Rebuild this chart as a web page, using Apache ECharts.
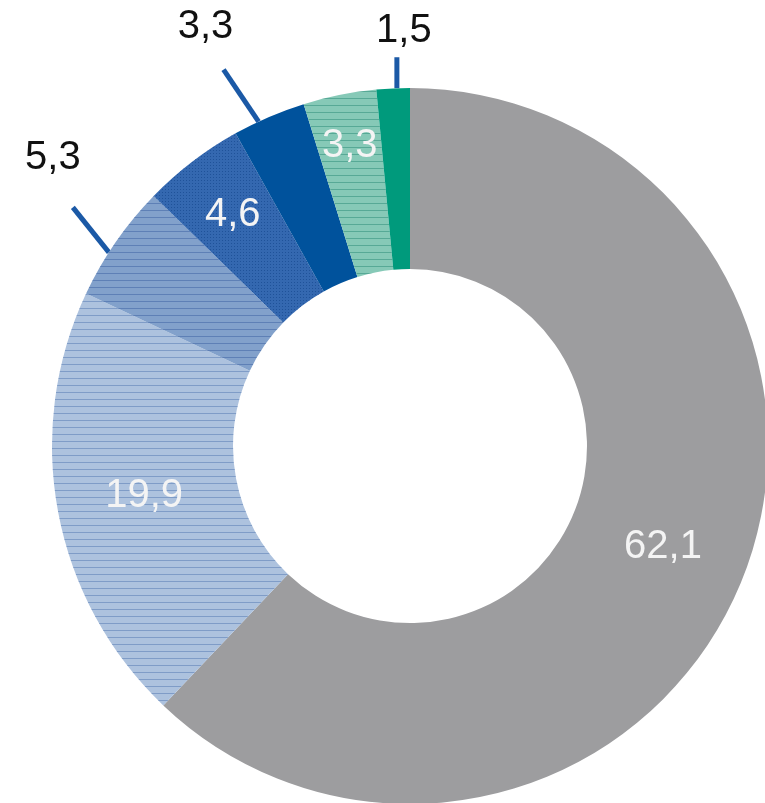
<!DOCTYPE html>
<html>
<head>
<meta charset="utf-8">
<script src="https://cdn.jsdelivr.net/npm/echarts@6/dist/echarts.min.js"></script>
<style>
  html, body { margin: 0; padding: 0; background: #fff; }
  #pieChart { width: 765px; height: 803px; }
</style>
</head>
<body>
<div id="pieChart"></div>
<script>
// Anteile in %, im Uhrzeigersinn ab 12 Uhr
const categories = ["Segment 1", "Segment 2", "Segment 3", "Segment 4", "Segment 5", "Segment 6", "Segment 7"];
const shares = [62.1, 19.9, 5.3, 4.6, 3.3, 3.3, 1.5];

// Darstellung
const sliceColors = ["#9d9d9f", "#adc2de", "#82a1cb", "#3468b0", "#00529c", "#86c9b7", "#009a7c"];
const outsideLabel = [false, false, true, false, true, false, true];
// Fuehrungslinien: Verschiebung auf dem Bogen (Grad), Neigung gegen die Senkrechte (Grad), Laenge (px)
const lineShift = { 2: -2, 4: -1.8, 6: 0.6 };
const lineTilt = { 2: 38.7, 4: 34, 6: 0 };
const lineLen = { 2: 57.6, 4: 62.7, 6: 31 };
const outsideOffset = { 2: [-20, -49], 4: [-18, -43], 6: [7, -26] }; // Text relativ zum Linienende
const insideShift = { 0: 2, 1: 0, 3: 21, 5: 36 }; // radial nach aussen
const pieCenter = [410, 446];

const hLines = (color) => ({
  symbol: "rect",
  symbolSize: 1,
  dashArrayX: [20, 0],
  dashArrayY: [1, 6],
  color: color
});
const decals = [
  null,
  hLines("rgba(70,110,170,0.45)"),
  hLines("rgba(40,80,150,0.4)"),
  { symbol: "rect", symbolSize: 1, dashArrayX: [1, 2], dashArrayY: [1, 2], color: "rgba(10,60,130,0.5)" },
  null,
  hLines("rgba(30,130,110,0.45)"),
  null
];

const fmt = (v) => String(v).replace(".", ",");
const rad = (d) => (d * Math.PI) / 180;

const drawChart = () => {
  let myChart = echarts.init(document.getElementById("pieChart"));
  let seriesData = shares.map((v, i) => {
    let item = {
      name: categories[i],
      value: v,
      itemStyle: { color: sliceColors[i] }
    };
    if (decals[i]) item.itemStyle.decal = decals[i];
    if (outsideLabel[i]) {
      item.label = { position: "outside", color: "#111" };
      item.labelLine = {
        show: true,
        length: lineLen[i],
        length2: 0,
        lineStyle: { color: "#1b59a6", width: 5 }
      };
    } else {
      item.label = { position: "inside", color: "#f4f4f4" };
      item.labelLine = { show: false };
    }
    return item;
  });

  let option = {
    backgroundColor: "#fff",
    animation: false,
    series: [
      {
        type: "pie",
        center: pieCenter,
        radius: [177, 358],
        startAngle: 90,
        clockwise: true,
        avoidLabelOverlap: false,
        data: seriesData,
        label: {
          show: true,
          fontFamily: "Liberation Sans, Arial, sans-serif",
          fontSize: 40,
          formatter: (p) => fmt(p.value)
        },
        labelLayout: (params) => {
          let i = params.dataIndex;
          let r = params.labelRect;
          if (outsideLabel[i]) {
            let p0 = params.labelLinePoints[0];
            let ddx = p0[0] - pieCenter[0];
            let ddy = p0[1] - pieCenter[1];
            let R = Math.sqrt(ddx * ddx + ddy * ddy);
            let theta = Math.atan2(ddx, -ddy) + rad(lineShift[i]);
            let sx = pieCenter[0] + R * Math.sin(theta);
            let sy = pieCenter[1] - R * Math.cos(theta);
            let ex = sx - lineLen[i] * Math.sin(rad(lineTilt[i]));
            let ey = sy - lineLen[i] * Math.cos(rad(lineTilt[i]));
            let off = outsideOffset[i];
            return {
              x: ex + off[0],
              y: ey + off[1],
              align: "center",
              verticalAlign: "middle",
              labelLinePoints: [[sx, sy], [ex, ey], [ex, ey]]
            };
          }
          let cx = r.x + r.width / 2;
          let cy = r.y + r.height / 2;
          let dx = cx - pieCenter[0];
          let dy = cy - pieCenter[1];
          let len = Math.sqrt(dx * dx + dy * dy) || 1;
          let s = insideShift[i] || 0;
          return {
            x: cx + (dx / len) * s,
            y: cy + (dy / len) * s,
            align: "center",
            verticalAlign: "middle"
          };
        }
      }
    ]
  };
  myChart.setOption(option);
};
drawChart();
</script>
</body>
</html>
